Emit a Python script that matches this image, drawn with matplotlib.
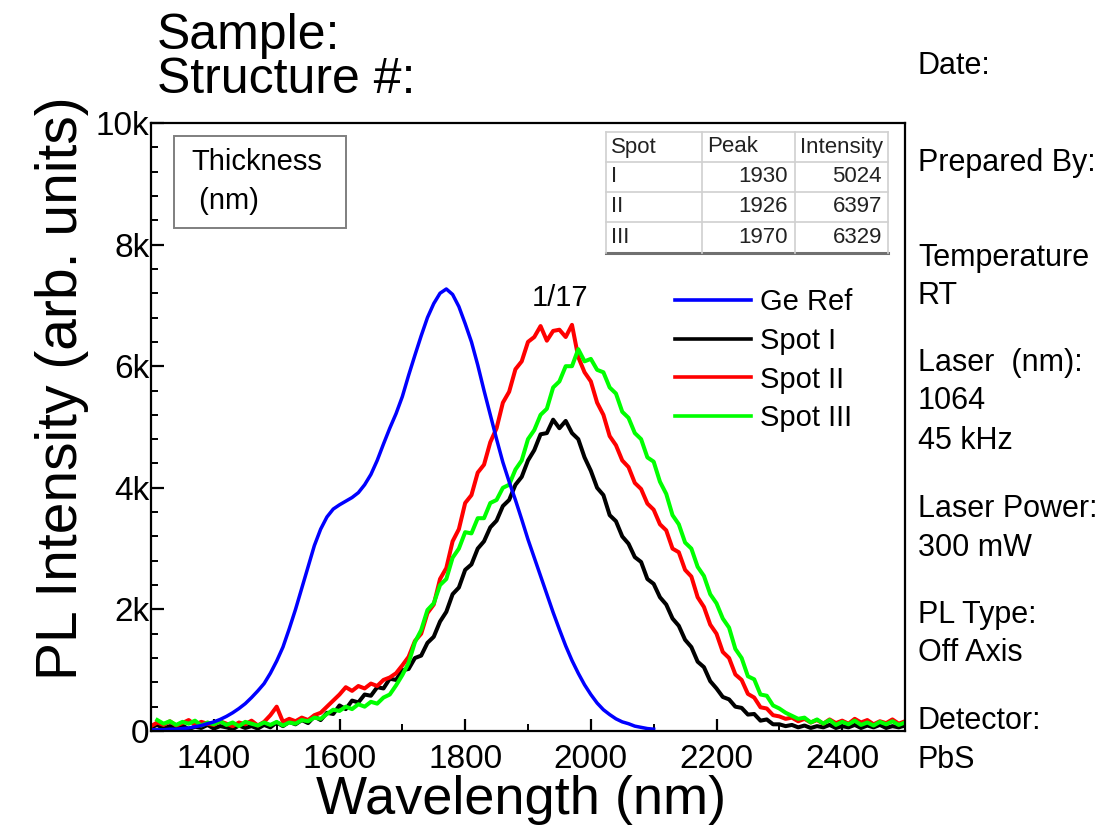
import numpy as np
import matplotlib
matplotlib.use("Agg")
import matplotlib.pyplot as plt
from matplotlib.lines import Line2D
from matplotlib.patches import Rectangle
from matplotlib.ticker import MultipleLocator, FuncFormatter

plt.rcParams['font.family'] = ['Liberation Sans', 'DejaVu Sans']

# ---------------- data (intensities in thousands of counts) ----------------
wl_ge = np.arange(1300, 2101, 10)
ge_ref = [0.02, 0.02, 0.02, 0.03, 0.03, 0.04, 0.05, 0.07, 0.09, 0.12,
          0.15, 0.19, 0.24, 0.30, 0.37, 0.45, 0.55, 0.66, 0.78, 0.95,
          1.15, 1.38, 1.68, 2.00, 2.35, 2.70, 3.05, 3.32, 3.52, 3.65,
          3.72, 3.78, 3.84, 3.92, 4.05, 4.22, 4.45, 4.72, 4.98, 5.22,
          5.50, 5.85, 6.18, 6.50, 6.80, 7.03, 7.20, 7.27, 7.18, 6.98,
          6.70, 6.40, 6.02, 5.60, 5.20, 4.80, 4.42, 4.10, 3.80, 3.48,
          3.15, 2.85, 2.55, 2.25, 1.95, 1.67, 1.40, 1.16, 0.95, 0.76,
          0.60, 0.46, 0.35, 0.27, 0.20, 0.15, 0.12, 0.08, 0.06, 0.04,
          0.03]

wl_spot = np.arange(1300, 2501, 10)
spot_1 = [0.06, 0.10, 0.04, 0.08, 0.05, 0.09, 0.03, 0.07, 0.05, 0.10,
          0.04, 0.08, 0.06, 0.03, 0.09, 0.05, 0.08, 0.04, 0.10, 0.06,
          0.14, 0.08, 0.15, 0.11, 0.18, 0.13, 0.24, 0.18, 0.30, 0.28,
          0.42, 0.36, 0.50, 0.47, 0.60, 0.58, 0.72, 0.70, 0.86, 0.84,
          1.00, 1.02, 1.20, 1.24, 1.45, 1.55, 1.80, 1.96, 2.25, 2.36,
          2.65, 2.74, 3.00, 3.12, 3.35, 3.46, 3.70, 3.80, 4.05, 4.18,
          4.45, 4.62, 4.88, 4.90, 5.12, 4.98, 5.10, 4.90, 4.80, 4.50,
          4.28, 4.00, 3.88, 3.55, 3.45, 3.20, 3.08, 2.86, 2.78, 2.50,
          2.42, 2.20, 2.08, 1.85, 1.73, 1.50, 1.38, 1.14, 1.05, 0.82,
          0.70, 0.56, 0.52, 0.40, 0.38, 0.27, 0.28, 0.17, 0.19, 0.11,
          0.11, 0.08, 0.10, 0.06, 0.09, 0.05, 0.08, 0.06, 0.10, 0.05,
          0.08, 0.06, 0.10, 0.05, 0.09, 0.06, 0.10, 0.05, 0.08, 0.06,
          0.09]
spot_2 = [0.08, 0.14, 0.10, 0.16, 0.09, 0.13, 0.18, 0.10, 0.15, 0.12,
          0.10, 0.16, 0.12, 0.08, 0.14, 0.11, 0.17, 0.09, 0.15, 0.26,
          0.40, 0.15, 0.20, 0.16, 0.22, 0.18, 0.26, 0.30, 0.40, 0.50,
          0.60, 0.72, 0.66, 0.74, 0.70, 0.78, 0.74, 0.84, 0.88, 0.95,
          1.08, 1.22, 1.48, 1.60, 1.94, 2.08, 2.50, 2.68, 3.12, 3.32,
          3.75, 3.88, 4.25, 4.38, 4.75, 4.98, 5.40, 5.58, 5.95, 6.08,
          6.40, 6.48, 6.66, 6.42, 6.58, 6.60, 6.48, 6.68, 6.15, 5.90,
          5.75, 5.40, 5.20, 4.85, 4.70, 4.45, 4.34, 4.08, 3.98, 3.74,
          3.64, 3.40, 3.30, 3.00, 2.94, 2.65, 2.54, 2.20, 2.04, 1.75,
          1.60, 1.30, 1.20, 0.93, 0.84, 0.61, 0.55, 0.39, 0.37, 0.26,
          0.24, 0.20, 0.22, 0.16, 0.20, 0.14, 0.18, 0.12, 0.19, 0.13,
          0.17, 0.12, 0.20, 0.14, 0.18, 0.11, 0.16, 0.13, 0.19, 0.12,
          0.16]
spot_3 = [np.nan, 0.18, 0.12, 0.16, 0.10, 0.15, 0.12, 0.17, 0.09, 0.14,
          0.11, 0.16, 0.10, 0.14, 0.08, 0.15, 0.12, 0.09, 0.14, 0.10,
          0.15, 0.09, 0.14, 0.12, 0.18, 0.16, 0.22, 0.20, 0.28, 0.35,
          0.33, 0.40, 0.36, 0.44, 0.40, 0.48, 0.45, 0.55, 0.60, 0.75,
          0.92, 1.12, 1.46, 1.66, 1.99, 2.10, 2.40, 2.50, 2.85, 3.00,
          3.27, 3.25, 3.50, 3.50, 3.75, 3.80, 4.00, 4.05, 4.30, 4.45,
          4.80, 4.95, 5.20, 5.30, 5.65, 5.75, 6.00, 6.00, 6.28, 6.08,
          6.12, 5.94, 5.90, 5.65, 5.55, 5.25, 5.15, 4.90, 4.80, 4.50,
          4.43, 4.10, 3.90, 3.55, 3.40, 3.10, 3.00, 2.70, 2.55, 2.25,
          2.10, 1.85, 1.70, 1.35, 1.20, 0.90, 0.85, 0.60, 0.58, 0.42,
          0.37, 0.30, 0.25, 0.20, 0.22, 0.14, 0.19, 0.12, 0.18, 0.10,
          0.15, 0.11, 0.17, 0.10, 0.14, 0.09, 0.15, 0.11, 0.16, 0.10,
          0.14]

series_labels = ["Ge Ref", "Spot I", "Spot II", "Spot III"]
series_colors = ["#0000ff", "#000000", "#ff0000", "#00ff00"]

table_header = ["Spot", "Peak", "Intensity"]
table_spot = ["I", "II", "III"]
table_peak = [1930, 1926, 1970]
table_intensity = [5024, 6397, 6329]

info_lines = [("Date:", 66), ("Prepared By:", 163), ("Temperature", 258),
              ("RT", 296), ("Laser  (nm):", 363), ("1064", 401),
              ("45 kHz", 441), ("Laser Power:", 509), ("300 mW", 548),
              ("PL Type:", 615), ("Off Axis", 653), ("Detector:", 721),
              ("PbS", 760)]

# ---------------- figure ----------------
W, H = 1099, 832
fig = plt.figure(figsize=(W / 100, H / 100), dpi=100)
fig.patch.set_facecolor("white")

def fx(px):
    return px / W

def fy(py):
    return 1 - py / H

ax = fig.add_axes([fx(151), fy(731), fx(905) - fx(151), fy(123) - fy(731)])

ax.plot(wl_spot, np.array(spot_1) * 1000, color=series_colors[1], lw=2.9)
ax.plot(wl_spot, np.array(spot_2) * 1000, color=series_colors[2], lw=2.9)
ax.plot(wl_spot, np.array(spot_3) * 1000, color=series_colors[3], lw=2.9)
ax.plot(wl_ge, np.array(ge_ref) * 1000, color=series_colors[0], lw=2.5)

ax.set_xlim(1300, 2500)
ax.set_ylim(0, 10000)
ax.xaxis.set_major_locator(MultipleLocator(200))
ax.xaxis.set_minor_locator(MultipleLocator(100))
ax.yaxis.set_major_locator(MultipleLocator(2000))
ax.yaxis.set_minor_locator(MultipleLocator(400))
ax.yaxis.set_major_formatter(FuncFormatter(lambda v, p: "0" if v == 0 else f"{int(round(v / 1000))}k"))
ax.set_xticks([1400, 1600, 1800, 2000, 2200, 2400])

for s in ax.spines.values():
    s.set_linewidth(1.6)
ax.tick_params(which="major", direction="in", length=9, width=1.6, labelsize=24)
ax.tick_params(axis="x", which="major", pad=9)
ax.tick_params(axis="y", which="major", pad=1)
ax.tick_params(which="minor", direction="in", length=5, width=1.4)

ax.set_xlabel("Wavelength (nm)", fontsize=39)
ax.set_ylabel("PL Intensity (arb. units)", fontsize=41)
ax.xaxis.set_label_coords((521 - 151) / 754, -(800 - 731) / 608, transform=ax.transAxes)
ax.xaxis.label.set_va("center")
ax.yaxis.set_label_coords(-(151 - 62) / 754, (731 - 388) / 608, transform=ax.transAxes)
ax.yaxis.label.set_va("center")

# legend
handles = [Line2D([], [], color=c, lw=2.6) for c in series_colors]
ax.legend(handles, series_labels, loc="upper left",
          bbox_to_anchor=(fx(675), fy(288)), bbox_transform=fig.transFigure,
          frameon=False, fontsize=21, handlelength=2.6, handletextpad=0.3,
          labelspacing=0.37, borderpad=0, borderaxespad=0)

fig.text(fx(560), fy(298), "1/17", fontsize=21, ha="center", va="center")

# thickness box
fig.add_artist(Rectangle((fx(174), fy(228)), fx(346) - fx(174), fy(136) - fy(228),
                         transform=fig.transFigure, fill=False, ec="#7f7f7f", lw=1.4))
fig.text(fx(191), fy(162), "Thickness", fontsize=21, ha="left", va="center")
fig.text(fx(191), fy(201), " (nm)", fontsize=21, ha="left", va="center")

# table
tl, tr, tt, tb = 606, 888, 132, 253
col_x = [606, 702, 795, 888]
row_y = [132, 162, 192, 222, 253]
grid_c = "#d0d0d0"
for yv in row_y[:-1]:
    fig.add_artist(Line2D([fx(tl), fx(tr)], [fy(yv), fy(yv)], transform=fig.transFigure, color=grid_c, lw=1.2))
fig.add_artist(Line2D([fx(tl), fx(tr)], [fy(tb), fy(tb)], transform=fig.transFigure, color="#707070", lw=2.2))
for xv in col_x:
    fig.add_artist(Line2D([fx(xv), fx(xv)], [fy(tt), fy(tb)], transform=fig.transFigure, color=grid_c, lw=1.2))
tfs = 16
for j, h in enumerate(table_header):
    fig.text(fx(col_x[j] + 5), fy((row_y[0] + row_y[1]) / 2), h, fontsize=tfs, ha="left", va="center", color="#222222")
for i in range(3):
    yc = fy((row_y[i + 1] + row_y[i + 2]) / 2)
    fig.text(fx(col_x[0] + 5), yc, table_spot[i], fontsize=tfs, ha="left", va="center", color="#222222")
    fig.text(fx(col_x[2] - 7), yc, str(table_peak[i]), fontsize=tfs, ha="right", va="center", color="#222222")
    fig.text(fx(col_x[3] - 6), yc, str(table_intensity[i]), fontsize=tfs, ha="right", va="center", color="#222222")

# titles
fig.text(fx(157), fy(36), "Sample:", fontsize=36, ha="left", va="center")
fig.text(fx(157), fy(80), "Structure #:", fontsize=36, ha="left", va="center")

# info column
for txt, yp in info_lines:
    fig.text(fx(918), fy(yp), txt, fontsize=22, ha="left", va="center")

fig.savefig("out.png", dpi=100)
